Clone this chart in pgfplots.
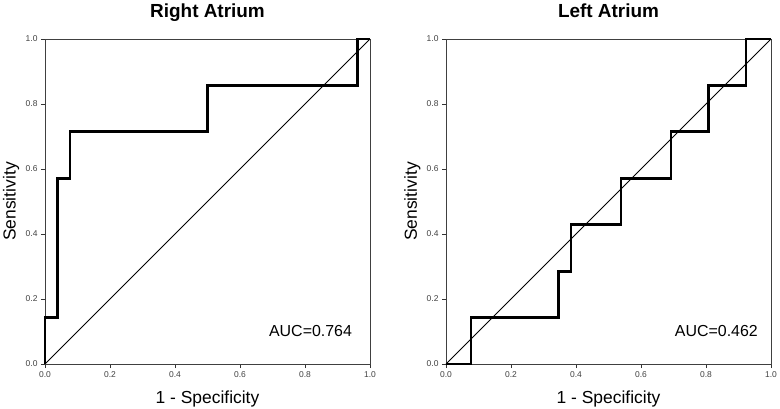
\documentclass[border=0pt]{standalone}
\usepackage{pgfplots}
\pgfplotsset{compat=1.18}
\usepackage{fontspec}
\setmainfont{Liberation Sans}
\begin{document}
\begin{tikzpicture}
\path[use as bounding box] (0bp,0bp) rectangle (780bp,409bp);
\pgfplotsset{
  rocstyle/.style={
    scale only axis, width=325bp, height=325bp,
    xmin=0, xmax=1, ymin=0, ymax=1,
    xtick={0,0.2,0.4,0.6,0.8,1.0}, ytick={0,0.2,0.4,0.6,0.8,1.0},
    xticklabel style={/pgf/number format/fixed,/pgf/number format/fixed zerofill,/pgf/number format/precision=1,font=\fontsize{8.5}{9}\selectfont, text=black!75},
    yticklabel style={/pgf/number format/fixed,/pgf/number format/fixed zerofill,/pgf/number format/precision=1,font=\fontsize{8.5}{9}\selectfont, text=black!75},
    /pgf/number format/assume math mode=true,
    tick align=outside, tick pos=left,
    major tick length=4bp,
    axis line style={black!75, line width=0.9bp},
    tick style={black!80, line width=0.7bp},
    xlabel={1 - Specificity}, ylabel={Sensitivity},
    label style={font=\fontsize{17.5}{19}\selectfont},
    xlabel style={at={(axis description cs:0.5,0)}, anchor=base, yshift=-39bp},
    ylabel style={at={(axis description cs:-0.09,0.5)}, anchor=base},
    title style={font=\fontsize{19}{21}\selectfont\bfseries, at={(axis description cs:0.5,1)}, anchor=base, yshift=15.5bp},
    clip=false,
  }
}
\begin{axis}[rocstyle, at={(45bp,45bp)}, anchor=south west, title={Right Atrium}]
\addplot[black, line width=0.8bp] coordinates {(0,0) (1,1)};
\addplot[black, line width=2.8bp, line join=miter] coordinates {
(0,0) (0,0.142857) (0.038462,0.142857) (0.038462,0.571429) (0.076923,0.571429)
(0.076923,0.714286) (0.5,0.714286) (0.5,0.857143) (0.961538,0.857143)
(0.961538,1) (1,1)};
\node[font=\fontsize{16}{18}\selectfont] at (rel axis cs:0.817,0.10) {AUC=0.764};
\end{axis}
\begin{axis}[rocstyle, at={(446bp,45bp)}, anchor=south west, title={Left Atrium}]
\addplot[black, line width=0.8bp] coordinates {(0,0) (1,1)};
\addplot[black, line width=2.8bp, line join=miter] coordinates {
(0,0) (0.076923,0) (0.076923,0.142857) (0.346154,0.142857) (0.346154,0.285714)
(0.384615,0.285714) (0.384615,0.428571) (0.538462,0.428571) (0.538462,0.571429)
(0.692308,0.571429) (0.692308,0.714286) (0.807692,0.714286) (0.807692,0.857143)
(0.923077,0.857143) (0.923077,1) (1,1)};
\node[font=\fontsize{16}{18}\selectfont] at (rel axis cs:0.832,0.10) {AUC=0.462};
\end{axis}
\end{tikzpicture}
\end{document}
